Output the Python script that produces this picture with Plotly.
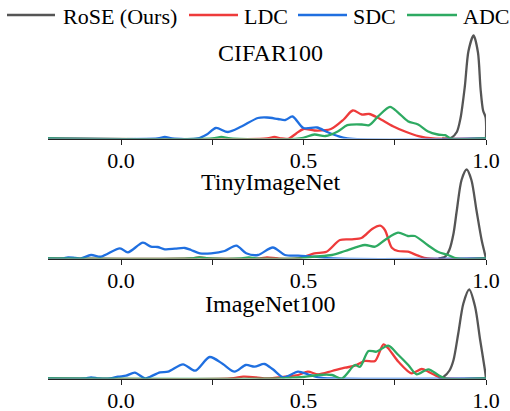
import plotly.graph_objects as go

# ---------------- data (x = similarity, y = density) ----------------
methods = ["RoSE (Ours)", "LDC", "SDC", "ADC"]
datasets = ["CIFAR100", "TinyImageNet", "ImageNet100"]
tick_vals = [0.0, 0.25, 0.5, 0.75, 1.0]
tick_text = ["0.0", "", "0.5", "", "1.0"]

# CIFAR100
cifar_rose_x = [0.88, 0.905, 0.92, 0.93, 0.942, 0.952, 0.966, 0.978, 0.985, 0.992, 0.999, 1.0]
cifar_rose_y = [0, 0.15, 1.3, 4.0, 10.4, 17.5, 20.6, 17.2, 10.0, 5.6, 4.2, 0]
cifar_ldc_x = [-0.2, 0.40, 0.42, 0.44, 0.46, 0.48, 0.50, 0.53, 0.575, 0.61, 0.635, 0.66, 0.68, 0.705, 0.745, 0.78, 0.815, 0.855, 1.0]
cifar_ldc_y = [0, 0, 0.3, 0, 0, 1.0, 1.9, 1.6, 1.9, 3.8, 5.6, 4.8, 4.9, 4.1, 2.46, 1.34, 0.46, 0, 0]
cifar_sdc_x = [-0.2, 0.10, 0.12, 0.14, 0.21, 0.235, 0.26, 0.293, 0.33, 0.375, 0.40, 0.43, 0.45, 0.47, 0.50, 0.537, 0.565, 0.59, 0.62, 1.0]
cifar_sdc_y = [0, 0, 0.3, 0, 0, 0.8, 2.1, 1.3, 2.4, 4.1, 4.2, 3.9, 3.7, 4.4, 2.1, 2.2, 1.3, 0.6, 0, 0]
cifar_adc_x = [-0.2, 0.25, 0.275, 0.30, 0.49, 0.53, 0.56, 0.595, 0.62, 0.66, 0.68, 0.705, 0.737, 0.76, 0.786, 0.814, 0.84, 0.868, 0.888, 0.905, 1.0]
cifar_adc_y = [0, 0, 0.3, 0, 0, 0.8, 0.5, 1.46, 2.66, 2.8, 2.66, 4.46, 6.34, 5.14, 3.46, 2.8, 1.46, 0.8, 0.66, 0, 0]

# TinyImageNet
tiny_rose_x = [0.87, 0.888, 0.90, 0.911, 0.92, 0.933, 0.947, 0.96, 0.974, 0.988, 0.996, 1.0]
tiny_rose_y = [0, 0.36, 1.8, 5.0, 9.6, 15.7, 17.8, 15.7, 9.6, 3.7, 1.2, 0]
tiny_ldc_x = [-0.2, 0.19, 0.215, 0.24, 0.38, 0.40, 0.43, 0.485, 0.53, 0.563, 0.60, 0.633, 0.66, 0.688, 0.71, 0.723, 0.742, 0.759, 0.786, 0.814, 0.84, 1.0]
tiny_ldc_y = [0, 0, 0.2, 0, 0, 0.2, 0, 0, 1.04, 1.36, 3.7, 3.84, 4.16, 5.9, 6.56, 5.7, 2.16, 1.5, 1.36, 0.56, 0, 0]
tiny_sdc_x = [-0.2, -0.16, -0.145, -0.125, -0.11, -0.082, -0.055, -0.003, 0.019, 0.06, 0.082, 0.10, 0.12, 0.148, 0.175, 0.192, 0.216, 0.247, 0.284, 0.316, 0.343, 0.375, 0.416, 0.449, 0.485, 0.53, 0.578, 1.0]
tiny_sdc_y = [0, 0, 0.24, 0.1, 0, 0.7, 0.36, 2.04, 1.24, 3.16, 2.36, 2.3, 1.84, 1.96, 2.1, 1.7, 1.04, 1.04, 1.5, 2.56, 1.04, 0.7, 2.2, 0.7, 0.56, 0.36, 0, 0]
tiny_adc_x = [-0.2, 0.19, 0.215, 0.24, 0.33, 0.35, 0.37, 0.485, 0.53, 0.578, 0.614, 0.668, 0.696, 0.723, 0.759, 0.786, 0.805, 0.84, 0.868, 0.896, 0.92, 1.0]
tiny_adc_y = [0, 0, 0.2, 0, 0, 0.2, 0, 0, 0.36, 0.7, 1.5, 2.7, 2.36, 3.7, 5.16, 4.5, 4.5, 2.7, 1.36, 0.7, 0, 0]

# ImageNet100
imnet_rose_x = [0.87, 0.884, 0.90, 0.911, 0.924, 0.938, 0.954, 0.97, 0.984, 0.997, 1.0]
imnet_rose_y = [0, 0.36, 1.6, 3.7, 9.0, 15.0, 17.8, 14.4, 7.7, 1.7, 0]
imnet_ldc_x = [-0.2, 0.30, 0.335, 0.37, 0.40, 0.449, 0.485, 0.512, 0.54, 0.578, 0.614, 0.641, 0.668, 0.696, 0.719, 0.732, 0.76, 0.796, 0.824, 0.842, 0.869, 0.888, 1.0]
imnet_ldc_y = [0, 0, 0.36, 0.24, 0, 0.36, 0.7, 1.36, 0.84, 1.5, 2.16, 2.56, 3.5, 3.5, 6.84, 6.04, 3.36, 1.04, 1.9, 1.36, 0.36, 0, 0]
imnet_sdc_x = [-0.2, -0.10, -0.082, -0.06, -0.03, -0.008, 0.014, 0.038, 0.066, 0.08, 0.107, 0.129, 0.17, 0.203, 0.243, 0.279, 0.311, 0.342, 0.366, 0.393, 0.416, 0.444, 0.485, 0.512, 0.54, 0.578, 1.0]
imnet_sdc_y = [0, 0, 0.24, 0, 0, 0.36, 0.56, 1.16, 0, 0.36, 1.24, 1.36, 2.84, 1.56, 4.3, 2.9, 1.36, 2.7, 2.36, 2.9, 1.84, 0.24, 1.36, 0.84, 0.24, 0, 0]
imnet_adc_x = [-0.2, 0.44, 0.47, 0.50, 0.54, 0.578, 0.605, 0.641, 0.655, 0.678, 0.70, 0.732, 0.76, 0.787, 0.81, 0.842, 0.869, 0.888, 1.0]
imnet_adc_y = [0, 0, 0.16, 0.3, 0.7, 0.7, 0, 2.7, 2.36, 5.5, 5.36, 6.56, 4.7, 2.7, 0.84, 1.84, 0.7, 0, 0]

colors = ["#555555", "#EE3B3B", "#1F6FE0", "#2EAA62"]

panels = [
    [(cifar_rose_x, cifar_rose_y), (cifar_ldc_x, cifar_ldc_y), (cifar_sdc_x, cifar_sdc_y), (cifar_adc_x, cifar_adc_y)],
    [(tiny_rose_x, tiny_rose_y), (tiny_ldc_x, tiny_ldc_y), (tiny_sdc_x, tiny_sdc_y), (tiny_adc_x, tiny_adc_y)],
    [(imnet_rose_x, imnet_rose_y), (imnet_ldc_x, imnet_ldc_y), (imnet_sdc_x, imnet_sdc_y), (imnet_adc_x, imnet_adc_y)],
]

# ---------------- layout helpers ----------------
W, H = 510, 411
SERIF = "Liberation Serif, Times New Roman, serif"
px_per_unit = 5.0
baselines = [138.5, 258.5, 378.5]
y_tops = [21.5, 19.0, 19.0]
title_y = [52.5, 182.5, 304.0]

fig = go.Figure()
layout = dict(
    width=W, height=H,
    margin=dict(l=0, r=0, t=0, b=0, autoexpand=False),
    paper_bgcolor="white", plot_bgcolor="white",
    showlegend=False,
    font=dict(family=SERIF, size=22, color="black"),
)

for i, curves in enumerate(panels):
    sfx = "" if i == 0 else str(i + 1)
    for j, (xs, ys) in enumerate(curves):
        fig.add_trace(go.Scatter(
            x=xs, y=ys, mode="lines", name=methods[j],
            line=dict(color=colors[j], width=2.3, shape="spline", smoothing=0.8),
            xaxis="x" + sfx, yaxis="y" + sfx, hoverinfo="skip",
        ))
    b = baselines[i]
    top_px = b - y_tops[i] * px_per_unit
    layout["xaxis" + sfx] = dict(
        domain=[48 / W, 486 / W], range=[-0.2, 1.0], anchor="y" + sfx, automargin=False,
        showgrid=False, zeroline=False, showline=True, linecolor="#222222", linewidth=1.2,
        ticks="outside", ticklen=5, tickwidth=1.2, tickcolor="#222222",
        tickvals=tick_vals, ticktext=tick_text, ticklabelstandoff=-3,
        tickfont=dict(family=SERIF, size=22, color="black"), layer="below traces",
    )
    layout["yaxis" + sfx] = dict(
        domain=[1 - b / H, 1 - top_px / H], range=[0, y_tops[i]], anchor="x" + sfx,
        visible=False, automargin=False,
    )

annotations = []
for i, name in enumerate(datasets):
    annotations.append(dict(
        text=name, x=270 / W, y=1 - title_y[i] / H, xref="paper", yref="paper",
        xanchor="center", yanchor="middle", showarrow=False,
        font=dict(family=SERIF, size=24, color="black"),
    ))

# custom legend (long line samples as in the original)
leg_line = [(7, 55), (189, 238), (298, 347), (407, 457)]
leg_text_x = [61, 242, 351, 461]
shapes = []
for j, name in enumerate(methods):
    x0, x1 = leg_line[j]
    shapes.append(dict(type="line", xref="paper", yref="paper",
                       x0=x0 / W, x1=x1 / W, y0=1 - 15 / H, y1=1 - 15 / H,
                       line=dict(color=colors[j], width=2.5)))
    annotations.append(dict(
        text=name, x=leg_text_x[j] / W, y=1 - 16.5 / H, xref="paper", yref="paper",
        xanchor="left", yanchor="middle", showarrow=False,
        font=dict(family=SERIF, size=22, color="black"),
    ))

layout["annotations"] = annotations
layout["shapes"] = shapes
fig.update_layout(**layout)
fig.write_html(
    "out.html",
    config={"responsive": False, "displayModeBar": False},
    post_script="document.body.style.margin='0';document.body.style.overflow='hidden';",
)
